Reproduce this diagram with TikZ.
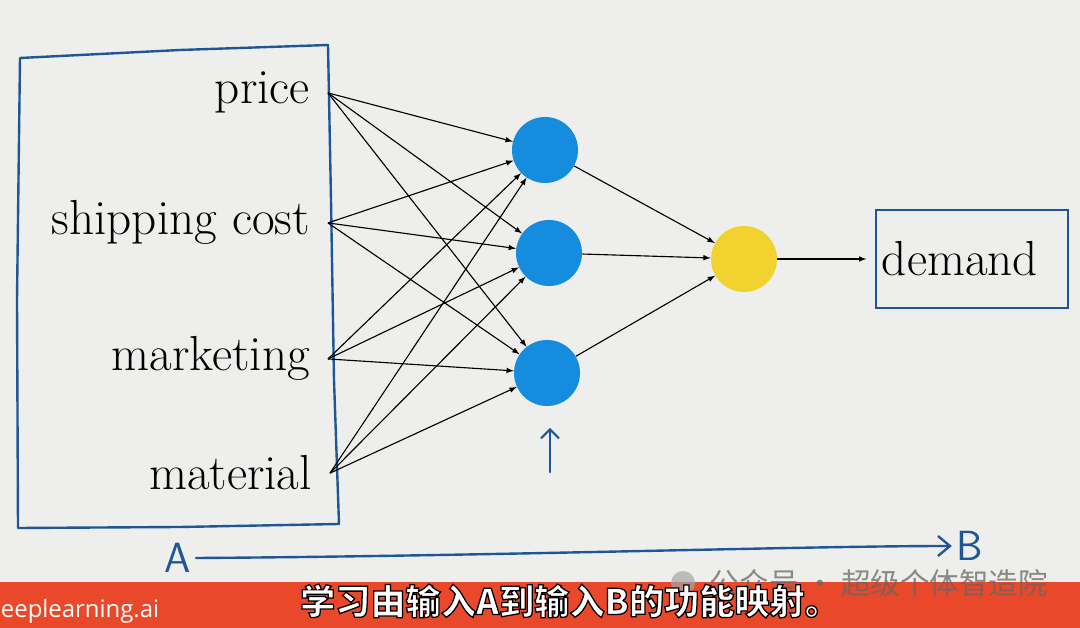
\documentclass[tikz,border=0pt]{standalone}
\usepackage{fontspec}
\usetikzlibrary{arrows,arrows.meta,positioning}
\newfontfamily\cjk{Noto Sans CJK SC}
\newfontfamily\websans{Open Sans}
\definecolor{slidebg}{RGB}{238,239,236}
\definecolor{penblue}{RGB}{30,86,150}
\definecolor{unitblue}{RGB}{22,140,222}
\definecolor{unityellow}{RGB}{242,210,46}
\definecolor{bandred}{RGB}{234,72,42}
\tikzset{
    feature/.style={anchor=base east, inner xsep=0.45cm, inner ysep=3pt, font=\fontsize{35}{42}\selectfont},
    hidden unit/.style={circle, fill=unitblue, minimum size=1.65cm, inner sep=0pt},
    output unit/.style={circle, fill=unityellow, minimum size=1.65cm, inner sep=0pt},
    pen/.style={penblue, line width=1.7pt, line join=round, line cap=round},
    wire/.style={->, black, line width=0.8pt}
}
\newcommand{\outlined}[1]{\special{pdf:literal direct 2 Tr 0.9 w 0 0 0 RG}#1\special{pdf:literal direct 0 Tr}}
\begin{document}
\begin{tikzpicture}[x=0.025cm, y=-0.025cm, >=latex]
    \fill[slidebg] (0,0) rectangle (1080,628);
    \useasboundingbox (0,0) rectangle (1080,628);

    % inputs
    \node[feature] (price) at (328,104) {price};
    \node[feature] (ship) at (328,235) {shipping cost};
    \node[feature] (mkt) at (328,371) {marketing};
    \node[feature] (mat) at (330,490) {material};
    \draw[pen] (20,58) -- (180,50) -- (328,45) -- (331,200) -- (334,380) -- (339,524)
        -- (180,527) -- (18,528) -- (17,300) -- cycle;

    % hidden layer and output
    \node[hidden unit] (h1) at (545,150) {};
    \node[hidden unit] (h2) at (549,253) {};
    \node[hidden unit] (h3) at (547,373) {};
    \node[output unit] (y) at (744,259) {};
    \node[draw=penblue, line width=1.7pt, minimum width=4.8cm, minimum height=2.45cm,
        inner xsep=0.15cm, text width=4.5cm, align=left,
        font=\fontsize{35}{42}\selectfont] (demand) at (972,259) {demand};

    \foreach \i in {price,ship,mkt,mat}
        \foreach \h in {h1,h2,h3}
            \draw[wire] (\i.east) -- (\h);
    \foreach \h in {h1,h2,h3}
        \draw[wire] (\h) -- (y);
    \draw[wire, shorten >=6pt] (y) -- (demand);

    \coordinate (tail) at (550,472);
    \coordinate (tip) at (550,428);
    \draw[pen, line width=1.5pt, -{Straight Barb[length=0.22cm, width=0.45cm]}] (tail) -- (tip);

    % A -> B
    \node[penblue, font=\sffamily\fontsize{30}{36}\selectfont] (A) at (178,558) {A};
    \node[penblue, font=\sffamily\fontsize{30}{36}\selectfont] (B) at (970,546) {B};
    \draw[pen, -{Straight Barb[length=0.3cm, width=0.5cm]}] (A.east) .. controls (500,556) and (800,546) .. (B.west);

    % subtitle band
    \fill[bandred] (0,582) rectangle (1080,628);
    \node[white, anchor=west, font=\websans\fontsize{17}{20}\selectfont] (site) at (-4,611) {eeplearning.ai};
    \fill[gray!70, opacity=0.7] (683,583) circle (12);
    \node[gray!80!black, opacity=0.75, anchor=west, font=\cjk\fontsize{21}{24}\selectfont] (mark) at (705,583) {公众号 · 超级个体智造院};
    \node[white, font=\cjk\bfseries\fontsize{25}{30}\selectfont] (sub) at (570,601) {\outlined{学习由输入A到输入B的功能映射。}};
\end{tikzpicture}
\end{document}
